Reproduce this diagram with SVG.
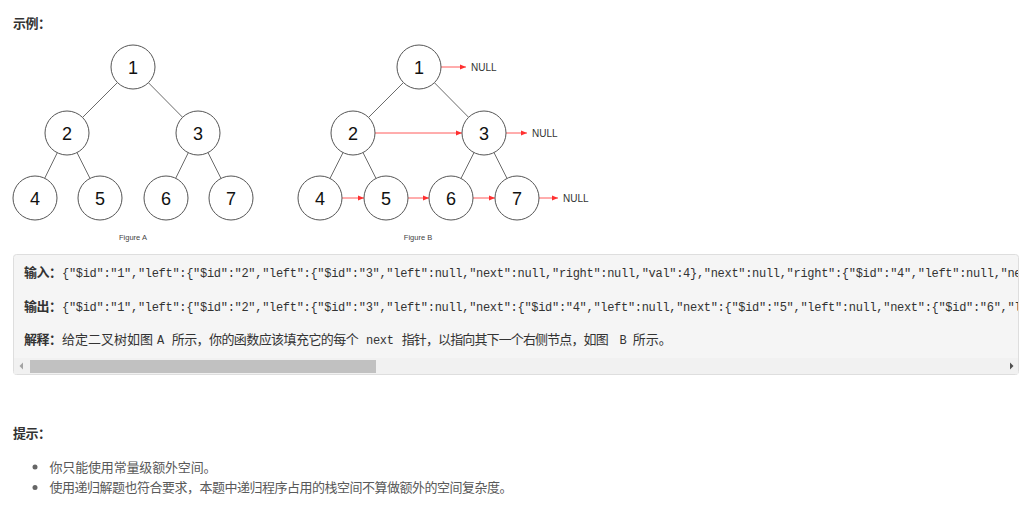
<svg xmlns="http://www.w3.org/2000/svg" width="1027" height="509" viewBox="0 0 1027 509">
<style>
.node circle{fill:#fff;stroke:#555;stroke-width:1}
.node text{font-family:"Liberation Sans",Arial,sans-serif;font-size:18px;fill:#111;text-anchor:middle}
.edge{stroke:#444;stroke-width:0.8;fill:none}
.nxt{stroke:#ff5a5a;stroke-width:1;fill:none;marker-end:url(#ah)}
.null{font-family:"Liberation Sans",Arial,sans-serif;font-size:10px;fill:#333}
.cap{font-family:"Liberation Sans",Arial,sans-serif;font-size:7.5px;fill:#444;text-anchor:middle}
.cn{font-family:"Noto Sans CJK SC","Microsoft YaHei",sans-serif;font-size:13px;fill:#595959}
.lbl{font-family:"Noto Sans CJK SC","Microsoft YaHei",sans-serif;font-size:13px;font-weight:bold;fill:#333}
.code{font-family:"Liberation Mono","Courier New",monospace;font-size:12px;letter-spacing:-0.3px;fill:#333}
.cn2{font-family:"Noto Sans CJK SC","Microsoft YaHei",sans-serif;font-size:13px;fill:#333}
</style>
<defs>
<marker id="ah" viewBox="0 0 6 6" refX="6" refY="3" markerWidth="6" markerHeight="6" markerUnits="userSpaceOnUse" orient="auto"><path d="M0,0.6 L6,3 L0,5.4 z" fill="#ff3030"/></marker>
<clipPath id="boxclip"><rect x="14" y="255" width="1004" height="103"/></clipPath>
</defs>
<rect width="1027" height="509" fill="#fff"/>

<text class="lbl" x="13" y="28" fill="#444" textLength="38" lengthAdjust="spacing">示例：</text>

<g id="connectors">
<g id="edges-a">
<line class="edge" x1="117.4" y1="82.6" x2="82.6" y2="117.4"/>
<line class="edge" x1="148.4" y1="82.7" x2="182.6" y2="117.3"/>
<line class="edge" x1="57.3" y1="152.7" x2="44.7" y2="178.3"/>
<line class="edge" x1="77" y1="152.6" x2="90" y2="178.4"/>
<line class="edge" x1="188.3" y1="152.7" x2="175.7" y2="178.3"/>
<line class="edge" x1="208" y1="152.6" x2="221" y2="178.4"/>
</g>
<g id="edges-b">
<line class="edge" x1="403.4" y1="82.6" x2="368.6" y2="117.4"/>
<line class="edge" x1="434.4" y1="82.7" x2="468.6" y2="117.3"/>
<line class="edge" x1="343" y1="152.6" x2="330" y2="178.4"/>
<line class="edge" x1="363" y1="152.6" x2="376" y2="178.4"/>
<line class="edge" x1="474" y1="152.6" x2="461" y2="178.4"/>
<line class="edge" x1="494" y1="152.6" x2="507" y2="178.4"/>
</g>
<g id="next-pointers">
<path class="nxt" d="M441,67 H466"/>
<path class="nxt" d="M506,133 H527"/>
<path class="nxt" d="M539,198 H558"/>
<path class="nxt" d="M375,133 H462"/>
<path class="nxt" d="M342,198 H364"/>
<path class="nxt" d="M408,198 H429"/>
<path class="nxt" d="M473,198 H495"/>
</g>
</g>

<g id="tree-a">
<g id="a1" class="node"><circle cx="133" cy="67" r="22"/><text x="133" y="73.5">1</text></g>
<g id="a2" class="node"><circle cx="67" cy="133" r="22"/><text x="67" y="139.5">2</text></g>
<g id="a3" class="node"><circle cx="198" cy="133" r="22"/><text x="198" y="139.5">3</text></g>
<g id="a4" class="node"><circle cx="35" cy="198" r="22"/><text x="35" y="204.5">4</text></g>
<g id="a5" class="node"><circle cx="100" cy="198" r="22"/><text x="100" y="204.5">5</text></g>
<g id="a6" class="node"><circle cx="166" cy="198" r="22"/><text x="166" y="204.5">6</text></g>
<g id="a7" class="node"><circle cx="231" cy="198" r="22"/><text x="231" y="204.5">7</text></g>
<text id="figA" class="cap" x="133" y="240">Figure A</text>
</g>

<g id="tree-b">
<g id="b1" class="node"><circle cx="419" cy="67" r="22"/><text x="419" y="73.5">1</text></g>
<g id="b2" class="node"><circle cx="353" cy="133" r="22"/><text x="353" y="139.5">2</text></g>
<g id="b3" class="node"><circle cx="484" cy="133" r="22"/><text x="484" y="139.5">3</text></g>
<g id="b4" class="node"><circle cx="320" cy="198" r="22"/><text x="320" y="204.5">4</text></g>
<g id="b5" class="node"><circle cx="386" cy="198" r="22"/><text x="386" y="204.5">5</text></g>
<g id="b6" class="node"><circle cx="451" cy="198" r="22"/><text x="451" y="204.5">6</text></g>
<g id="b7" class="node"><circle cx="517" cy="198" r="22"/><text x="517" y="204.5">7</text></g>
<g id="null1"><text class="null" x="471" y="70.6">NULL</text></g>
<g id="null3"><text class="null" x="532" y="136.6">NULL</text></g>
<g id="null7"><text class="null" x="563" y="201.6">NULL</text></g>
<text id="figB" class="cap" x="418" y="240">Figure B</text>
</g>

<g id="example-box">
<rect x="13.5" y="254.5" width="1005" height="120" rx="3" fill="#f5f5f5" stroke="#dedede"/>
<g clip-path="url(#boxclip)">
<text class="lbl" x="24" y="277" textLength="38" lengthAdjust="spacing">输入：</text>
<text class="code" x="62" y="277">{"$id":"1","left":{"$id":"2","left":{"$id":"3","left":null,"next":null,"right":null,"val":4},"next":null,"right":{"$id":"4","left":null,"ne</text>
<text class="lbl" x="24" y="311" textLength="38" lengthAdjust="spacing">输出：</text>
<text class="code" x="62" y="311">{"$id":"1","left":{"$id":"2","left":{"$id":"3","left":null,"next":{"$id":"4","left":null,"next":{"$id":"5","left":null,"next":{"$id":"6","l</text>
<text class="lbl" x="24" y="344" textLength="38" lengthAdjust="spacing">解释：</text>
<text class="cn2" x="62" y="344" textLength="91" lengthAdjust="spacing">给定二叉树如图</text>
<text class="code" x="157" y="344" fill="#555">A</text>
<text class="cn2" x="171.7" y="344" textLength="187" lengthAdjust="spacing">所示，你的函数应该填充它的每个</text>
<text class="code" x="366" y="344" fill="#555">next</text>
<text class="cn2" x="401.7" y="344" textLength="207" lengthAdjust="spacing">指针，以指向其下一个右侧节点，如图</text>
<text class="code" x="619.5" y="344" fill="#555">B</text>
<text class="cn2" x="632.7" y="344" textLength="39" lengthAdjust="spacing">所示。</text>
</g>
<g id="scrollbar">
<rect x="14" y="358" width="1004" height="16" fill="#f1f1f1"/>
<rect x="30" y="360" width="346" height="13" fill="#c1c1c1"/>
<path d="M23,362.5 L19.5,366 L23,369.5 z" fill="#a3a3a3"/>
<path d="M1010,362.5 L1013.5,366 L1010,369.5 z" fill="#505050"/>
</g>
</g>

<text class="lbl" x="13" y="438" fill="#444" textLength="38" lengthAdjust="spacing">提示：</text>
<g id="tips">
<circle cx="35" cy="467" r="2.5" fill="#666"/>
<text class="cn" x="49.5" y="471.5" textLength="167" lengthAdjust="spacing">你只能使用常量级额外空间。</text>
<circle cx="35" cy="487.5" r="2.5" fill="#666"/>
<text class="cn" x="49.5" y="492" textLength="463" lengthAdjust="spacing">使用递归解题也符合要求，本题中递归程序占用的栈空间不算做额外的空间复杂度。</text>
</g>
</svg>
